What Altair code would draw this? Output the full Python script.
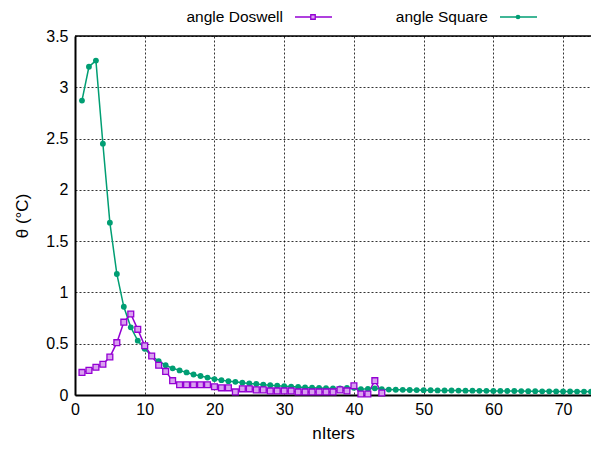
import altair as alt
import pandas as pd

doswell_x = list(range(1, 45))
doswell_y = [0.22, 0.24, 0.27, 0.30, 0.37, 0.51, 0.71, 0.79, 0.64, 0.48,
             0.38, 0.29, 0.23, 0.14, 0.10, 0.10, 0.10, 0.10, 0.10, 0.08,
             0.07, 0.07, 0.03, 0.06, 0.06, 0.05, 0.05, 0.04, 0.04, 0.04,
             0.04, 0.03, 0.03, 0.03, 0.03, 0.03, 0.03, 0.05, 0.04, 0.09,
             0.01, 0.01, 0.14, 0.02]

square_x = list(range(1, 75))
square_y = [2.87, 3.20, 3.26, 2.45, 1.68, 1.18, 0.86, 0.66, 0.53, 0.45,
            0.38, 0.33, 0.29, 0.26, 0.24, 0.22, 0.20, 0.185, 0.17, 0.155,
            0.145, 0.135, 0.128, 0.12, 0.113, 0.107, 0.10, 0.095, 0.09, 0.086,
            0.082, 0.078, 0.074, 0.071, 0.068, 0.066, 0.064, 0.065, 0.068, 0.07,
            0.057, 0.06, 0.065, 0.056, 0.053, 0.051, 0.05, 0.049, 0.048, 0.047,
            0.046, 0.045, 0.044, 0.044, 0.043, 0.042, 0.042, 0.041, 0.041, 0.040,
            0.040, 0.039, 0.039, 0.038, 0.037, 0.037, 0.036, 0.036, 0.035, 0.034,
            0.034, 0.033, 0.033, 0.032]

x_ticks = [0, 10, 20, 30, 40, 50, 60, 70]
y_ticks = [0, 0.5, 1, 1.5, 2, 2.5, 3, 3.5]

PURPLE = "#9400D3"
GREEN = "#009E73"
FONT = "Liberation Sans"
W, H = 516, 359

df_d = pd.DataFrame({"x": doswell_x, "y": doswell_y})
df_s = pd.DataFrame({"x": square_x, "y": square_y})

xs = alt.Scale(domain=[0, 74], nice=False, zero=False)
ys = alt.Scale(domain=[0, 3.5], nice=False)

xax = alt.Axis(values=x_ticks, title="nIters", grid=True, gridColor="black",
               gridDash=[2, 2], gridOpacity=0.8, ticks=False, labelPadding=6,
               domain=True, domainColor="black", domainWidth=2,
               labelFontSize=16, titleFontSize=17,
               titleFontWeight="normal", labelFont=FONT, titleFont=FONT,
               labelColor="black", titleColor="black", titlePadding=8,
               labelFlush=False, format="~g")
yax = alt.Axis(values=y_ticks, title="θ (°C)", grid=True, gridColor="black",
               gridDash=[2, 2], gridOpacity=0.8, ticks=False, labelPadding=7,
               domain=True, domainColor="black", domainWidth=2,
               labelFontSize=16, titleFontSize=17,
               titleFontWeight="normal", labelFont=FONT, titleFont=FONT,
               labelColor="black", titleColor="black", titlePadding=14,
               labelFlush=False, format="~g")

base_d = alt.Chart(df_d)
base_s = alt.Chart(df_s)

line_s = base_s.mark_line(color=GREEN, strokeWidth=1.5).encode(
    x=alt.X("x:Q", scale=xs, axis=xax), y=alt.Y("y:Q", scale=ys, axis=yax))
pts_s = base_s.mark_point(shape="circle", filled=True, color=GREEN, size=34,
                          opacity=1).encode(x=alt.X("x:Q", scale=xs), y=alt.Y("y:Q", scale=ys))
line_d = base_d.mark_line(color=PURPLE, strokeWidth=1.5).encode(
    x=alt.X("x:Q", scale=xs), y=alt.Y("y:Q", scale=ys))
pts_d = base_d.mark_point(shape="square", filled=False, stroke=PURPLE, fill="#d9a0f0",
                          fillOpacity=1, strokeWidth=1.3, size=34).encode(
    x=alt.X("x:Q", scale=xs), y=alt.Y("y:Q", scale=ys))

# top border of the plot frame
top_border = alt.Chart(pd.DataFrame({"k": [0]})).mark_rule(color="black", strokeWidth=1.5).encode(
    x=alt.value(0), x2=alt.value(W), y=alt.value(0))

# custom legend (gnuplot style: text then sample)
leg_names = ["angle Doswell", "angle Square"]
leg = pd.DataFrame({"name": leg_names, "tx": [208, 413], "l1": [220, 425],
                    "l2": [257, 462], "m": [238, 443]})
LEG_Y = -19
legend_text = alt.Chart(leg).mark_text(align="right", baseline="middle", fontSize=15.5,
                                       font=FONT, color="black").encode(
    x=alt.X("tx:Q", scale=None), y=alt.value(LEG_Y), text="name:N")
legend_lines = alt.Chart(leg).mark_rule(strokeWidth=1.5).encode(
    x=alt.X("l1:Q", scale=None), x2="l2:Q", y=alt.value(LEG_Y),
    color=alt.Color("name:N", scale=alt.Scale(domain=leg_names, range=[PURPLE, GREEN]), legend=None))
legend_sq = alt.Chart(leg).transform_filter(alt.datum.name == "angle Doswell").mark_point(
    shape="square", filled=False, stroke=PURPLE, fill="#d9a0f0", fillOpacity=1,
    strokeWidth=1.3, size=20).encode(x=alt.X("m:Q", scale=None), y=alt.value(LEG_Y))
legend_ci = alt.Chart(leg).transform_filter(alt.datum.name == "angle Square").mark_point(
    shape="circle", filled=True, color=GREEN, size=22, opacity=1).encode(
    x=alt.X("m:Q", scale=None), y=alt.value(LEG_Y))

chart = alt.layer(line_s, line_d, pts_s, pts_d, top_border, legend_text, legend_lines,
                  legend_sq, legend_ci).resolve_scale(color="independent").properties(
    width=W, height=H,
    autosize=alt.AutoSizeParams(type="none"),
    padding={"left": 67, "top": 28, "right": 0, "bottom": 52},
).configure_view(strokeWidth=0).configure(background="white")

chart.save("out.html", embed_options={"renderer": "svg", "actions": False})
